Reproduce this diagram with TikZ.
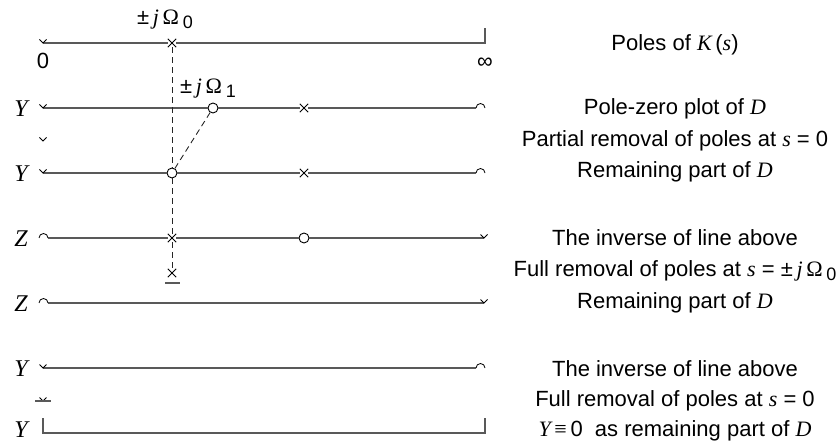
\documentclass[tikz,border=0pt]{standalone}
\usepackage{fontspec}
\setmainfont{Liberation Sans}
\newfontfamily\tms{Liberation Serif}
\usetikzlibrary{shapes.misc}
\newcommand\mv[1]{{\tms\itshape #1}}
\newcommand\Om{{\tms\symbol{"03A9}}}
\newcommand\subz{\raisebox{-4pt}{\fontsize{18}{20}\selectfont 0}}
\newcommand\subo{\raisebox{-4pt}{\fontsize{18}{20}\selectfont 1}}
\newcommand\pmj{±\,\mv{j}\,\Om}
\begin{document}
\begin{tikzpicture}[x=1pt,y=1pt,
  ax/.style={line width=1.4pt,draw=black!65},
  mk/.style={line width=0.8pt,draw=black},
  pole/.style={cross out,draw=black,line width=0.9pt,minimum size=7.5pt,inner sep=0pt},
  zero/.style={circle,draw=black,line width=0.9pt,fill=white,minimum size=10pt,inner sep=0pt},
  dsh/.style={line width=0.9pt,draw=black!85,dash pattern=on 6pt off 4pt},
  lbl/.style={font=\fontsize{22}{26}\selectfont,inner sep=0pt,anchor=center},
  side/.style={font=\fontsize{24}{26}\selectfont,inner sep=0pt,anchor=center},
  pics/hp/.style={code={\draw[mk] (-3.5,3.5)--(0,0)--(3.5,3.5);}},
  pics/hzl/.style={code={\draw[mk] (9,0) arc[start angle=0,end angle=180,radius=4.5];}},
  pics/hzr/.style={code={\draw[mk] (0,0) arc[start angle=0,end angle=180,radius=4.5];}},
  ]
\useasboundingbox (0,0) rectangle (837,-443);

% ---------- line 1: poles of K(s)
\coordinate (a0) at (43,-43);
\node[pole] (p0) at (172,-43) {};
\coordinate (a1) at (485,-43);
\coordinate (a1t) at (485,-28);
\draw[ax] (a0) -- (p0) -- (a1) -- (a1t);
\pic at (a0) {hp};
\node[lbl] (zerolbl) at (43,-61) {0};
\node[lbl] (inflbl) at (485,-63) {∞};
\node[lbl] (om0) at (165,-20) {\pmj\,\subz};

% ---------- line 2: pole-zero plot of D
\coordinate (b0) at (43,-108);
\node[zero] (z2) at (213,-108) {};
\node[pole] (p2) at (304,-108) {};
\coordinate (b1) at (476,-108);
\draw[ax] (b0) -- (z2) -- (p2) -- (b1);
\pic at (b0) {hp};
\pic at (485,-108) {hzr};
\node[lbl] (om1) at (208,-89) {\pmj\,\subo};
\node[side] (Y1) at (21,-109) {\mv{Y}};

% small half-pole between
\coordinate (h1) at (43,-141);
\pic at (h1) {hp};

% ---------- line 3: remaining part
\coordinate (c0) at (43,-173);
\node[zero] (z3) at (172,-173) {};
\node[pole] (p3) at (304,-173) {};
\coordinate (c1) at (476,-173);
\draw[ax] (c0) -- (z3) -- (p3) -- (c1);
\pic at (c0) {hp};
\pic at (485,-173) {hzr};
\node[side] (Y2) at (21,-174) {\mv{Y}};

% ---------- line 4: inverse
\coordinate (d0) at (48,-238);
\node[pole] (p4) at (172,-238) {};
\node[zero] (z4) at (304,-238) {};
\coordinate (d1) at (484,-238);
\draw[ax] (d0) -- (p4) -- (z4) -- (d1);
\pic at (39,-238) {hzl};
\pic at (d1) {hp};
\node[side] (Z1) at (21,-239) {\mv{Z}};

% removed pole
\node[pole] (pl) at (172,-273) {};
\coordinate (u0) at (165,-283);
\coordinate (u1) at (180,-283);
\draw[ax] (u0) -- (u1);

% ---------- line 5
\coordinate (e0) at (48,-303);
\coordinate (e1) at (484,-303);
\draw[ax] (e0) -- (e1);
\pic at (39,-303) {hzl};
\pic at (e1) {hp};
\node[side] (Z2) at (21,-304) {\mv{Z}};

% ---------- line 6
\coordinate (f0) at (43,-368);
\coordinate (f1) at (476,-368);
\draw[ax] (f0) -- (f1);
\pic at (f0) {hp};
\pic at (485,-368) {hzr};
\node[side] (Y3) at (21,-369) {\mv{Y}};

% removed half pole
\coordinate (h2) at (43,-401);
\pic at (h2) {hp};
\coordinate (v0) at (35,-401);
\coordinate (v1) at (51,-401);
\draw[ax] (v0) -- (v1);

% ---------- line 7
\coordinate (g0t) at (43,-418);
\coordinate (g0) at (43,-433);
\coordinate (g1) at (485,-433);
\coordinate (g1t) at (485,-418);
\draw[ax] (g0t) -- (g0) -- (g1) -- (g1t);
\node[side] (Y4) at (21,-430) {\mv{Y}};

% ---------- dashed connectors
\draw[dsh] (p0) -- (z3);
\draw[dsh] (z3) -- (p4);
\draw[dsh] (p4) -- (pl);
\draw[dsh] (z2) -- (z3);

% ---------- right-hand labels
\node[lbl] (t1) at (675,-45) {Poles of \mv{K}\,({\tms\itshape s})};
\node[lbl] (t2) at (675,-109) {Pole-zero plot of \mv{D}};
\node[lbl] (t3) at (675,-141) {Partial removal of poles at \mv{s} = 0};
\node[lbl] (t4) at (675,-172) {Remaining part of \mv{D}};
\node[lbl] (t5) at (675,-238) {The inverse of line above};
\node[lbl] (t6) at (675,-271) {Full removal of poles at \mv{s} = \pmj\,\subz};
\node[lbl] (t7) at (675,-303) {Remaining part of \mv{D}};
\node[lbl] (t8) at (675,-369) {The inverse of line above};
\node[lbl] (t9) at (675,-401) {Full removal of poles at \mv{s} = 0};
\node[lbl] (t10) at (675,-431) {\mv{Y}\,{\tms ≡}\,0\ \ as remaining part of \mv{D}};
\end{tikzpicture}
\end{document}
